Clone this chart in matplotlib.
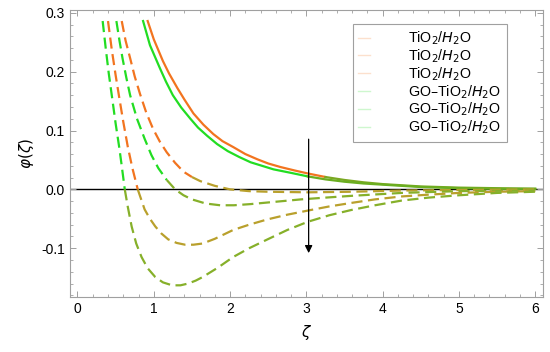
#!/usr/bin/env python3
import matplotlib
matplotlib.use('Agg')
import matplotlib.pyplot as plt
import numpy as np
from matplotlib.lines import Line2D
from matplotlib.ticker import MultipleLocator, FormatStrFormatter

# curves (zeta, phi)
# solid pair
x_ti_solid = [0.92, 1.0, 1.12, 1.2, 1.31, 1.4, 1.52, 1.65, 1.78, 1.9, 2.04, 2.2, 2.36, 2.5, 2.66,
              2.85, 3.02, 3.25, 3.5, 3.75, 4.0, 4.5, 5.0, 5.5, 6.0]
y_ti_solid = [0.286, 0.255, 0.218, 0.197, 0.172, 0.153, 0.129, 0.110, 0.094, 0.082, 0.072, 0.060,
              0.051, 0.044, 0.038, 0.032, 0.027, 0.021, 0.016, 0.012, 0.009, 0.005, 0.003, 0.002, 0.001]
x_go_solid = [0.86, 0.95, 1.08, 1.16, 1.25, 1.36, 1.48, 1.58, 1.70, 1.83, 1.97, 2.12, 2.27, 2.42,
              2.57, 2.8, 3.02, 3.25, 3.5, 3.75, 4.0, 4.5, 5.0, 5.5, 6.0]
y_go_solid = [0.286, 0.245, 0.206, 0.183, 0.160, 0.139, 0.120, 0.105, 0.091, 0.077, 0.065, 0.055,
              0.046, 0.040, 0.034, 0.028, 0.022, 0.017, 0.013, 0.010, 0.008, 0.004, 0.002, 0.001, 0.001]

# dashed, upper pair
x_ti_d1 = [0.58, 0.63, 0.69, 0.75, 0.82, 0.90, 0.99, 1.08, 1.17, 1.28, 1.39, 1.5, 1.61, 1.8, 2.0,
           2.25, 2.49, 3.02, 3.6, 4.25, 5.0, 6.0]
y_ti_d1 = [0.286, 0.253, 0.223, 0.192, 0.162, 0.131, 0.103, 0.081, 0.063, 0.045, 0.030, 0.021,
           0.014, 0.006, 0.0, -0.003, -0.004, -0.005, -0.004, -0.002, -0.001, 0.0]
x_go_d1 = [0.51, 0.55, 0.59, 0.64, 0.69, 0.78, 0.88, 0.97, 1.06, 1.17, 1.28, 1.39, 1.50, 1.68, 1.87,
           2.05, 2.27, 2.6, 2.93, 3.25, 3.59, 4.25, 5.0, 6.0]
y_go_d1 = [0.286, 0.253, 0.223, 0.190, 0.160, 0.120, 0.086, 0.058, 0.036, 0.016, 0.0, -0.010,
           -0.017, -0.024, -0.027, -0.027, -0.025, -0.021, -0.017, -0.014, -0.011, -0.006, -0.003, -0.002]

# dashed, lower pair
x_ti_d2 = [0.40, 0.45, 0.50, 0.55, 0.60, 0.66, 0.72, 0.79, 0.88, 0.95, 1.02, 1.10, 1.19, 1.30, 1.41,
           1.52, 1.64, 1.80, 2.04, 2.25, 2.49, 2.75, 3.02, 3.3, 3.59, 3.9, 4.25, 4.6, 5.0, 5.5, 6.0]
y_ti_d2 = [0.286, 0.237, 0.194, 0.154, 0.115, 0.072, 0.036, 0.0, -0.034, -0.050, -0.063, -0.075,
           -0.085, -0.091, -0.094, -0.094, -0.092, -0.084, -0.069, -0.060, -0.051, -0.043, -0.036,
           -0.029, -0.023, -0.017, -0.012, -0.009, -0.006, -0.004, -0.003]
x_go_d2 = [0.33, 0.37, 0.41, 0.46, 0.50, 0.55, 0.58, 0.62, 0.66, 0.71, 0.77, 0.84, 0.92, 1.02, 1.12,
           1.24, 1.35, 1.45, 1.55, 1.64, 1.84, 2.04, 2.25, 2.49, 2.75, 3.02, 3.3, 3.59, 3.9, 4.25,
           4.6, 5.0, 5.5, 6.0]
y_go_d2 = [0.286, 0.240, 0.197, 0.150, 0.112, 0.069, 0.040, 0.0, -0.030, -0.063, -0.092, -0.115,
           -0.134, -0.149, -0.158, -0.163, -0.163, -0.160, -0.155, -0.149, -0.133, -0.115, -0.100,
           -0.085, -0.069, -0.055, -0.044, -0.035, -0.027, -0.019, -0.014, -0.010, -0.006, -0.004]

labels = ['TiO$_2$/$H_2$O'] * 3 + ['GO\u2013TiO$_2$/$H_2$O'] * 3

orange = '#f2741f'
green = '#22dd22'
orange_low = '#b9a02c'
green_low = '#86b02a'

plt.rcParams['font.family'] = 'Liberation Sans'
plt.rcParams['mathtext.fontset'] = 'dejavusans'
plt.rcParams['axes.unicode_minus'] = False

fig = plt.figure(figsize=(5.5, 3.52), dpi=100)
ax = fig.add_axes([0.127, 0.156, 0.86, 0.816])


def draw(xs, ys, c_hi, c_lo, ls, thr):
    xs = np.array(xs)
    ys = np.array(ys)
    # colour shifts to olive once the curve falls close to the axis
    k = np.argmax(ys < thr)
    dash = (0, (5, 2.5)) if ls == '--' else '-'
    ax.plot(xs[:k + 1], ys[:k + 1], color=c_hi, lw=1.6, ls=dash)
    ax.plot(xs[k:], ys[k:], color=c_lo, lw=1.6, ls=dash)


draw(x_ti_solid, y_ti_solid, orange, '#7aa822', '-', 0.027)
draw(x_go_solid, y_go_solid, green, '#6aae20', '-', 0.023)
draw(x_ti_d1, y_ti_d1, orange, orange_low, '--', 0.03)
draw(x_go_d1, y_go_d1, green, green_low, '--', 0.018)
draw(x_ti_d2, y_ti_d2, orange, orange_low, '--', 0.01)
draw(x_go_d2, y_go_d2, green, green_low, '--', 0.01)

ax.axhline(0, color='black', lw=1.0, zorder=1)

ax.annotate('', xy=(3.03, -0.113), xytext=(3.03, 0.09),
            arrowprops=dict(arrowstyle='-|>', color='black', lw=0.9,
                            mutation_scale=11))

ax.set_xlim(-0.1, 6.1)
ax.set_ylim(-0.183, 0.305)
ax.xaxis.set_major_locator(MultipleLocator(1))
ax.xaxis.set_minor_locator(MultipleLocator(0.2))
ax.yaxis.set_major_locator(MultipleLocator(0.1))
ax.yaxis.set_minor_locator(MultipleLocator(0.02))
ax.yaxis.set_major_formatter(FormatStrFormatter('%.1f'))

for s in ax.spines.values():
    s.set_color('#a0a0a0')
    s.set_linewidth(0.8)
ax.tick_params(which='both', direction='in', top=True, right=True,
               color='#a0a0a0', labelsize=10, labelcolor='black')
ax.tick_params(which='major', length=4, width=0.7)
ax.tick_params(which='minor', length=2, width=0.6)

ax.set_xlabel(r'$\zeta$', fontsize=11, labelpad=5)
ax.set_ylabel(r'$\varphi(\zeta)$', fontsize=11, labelpad=4)

handles = [Line2D([], [], color=orange, lw=1, alpha=0.22)] * 3 + \
          [Line2D([], [], color=green, lw=1, alpha=0.22)] * 3
leg = ax.legend(handles, labels, loc='upper left', bbox_to_anchor=(0.598, 0.951),
                borderaxespad=0, fontsize=10.3, handlelength=0.8, handletextpad=2.7,
                labelspacing=0.03, borderpad=0.4, fancybox=False, framealpha=1)
leg.get_frame().set_edgecolor('#a0a0a0')
leg.get_frame().set_linewidth(0.8)

fig.savefig('out.png', dpi=100)
